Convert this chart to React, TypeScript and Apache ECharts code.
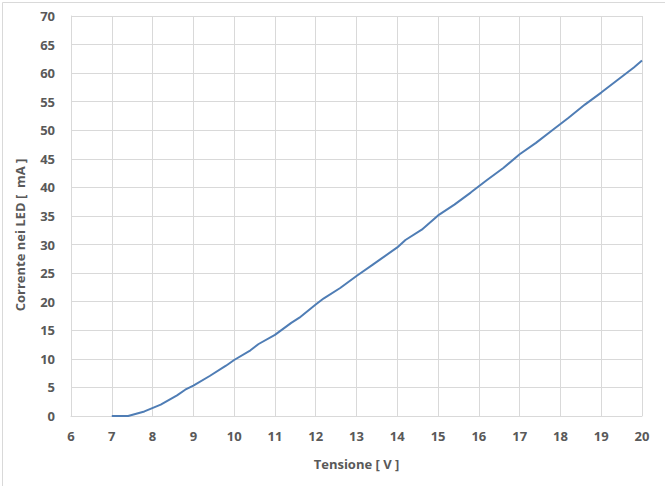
import React, { useEffect, useRef } from "react";
import * as echarts from "echarts";

const voltage = [7, 7.4, 7.8, 8.2, 8.6, 8.8, 9, 9.4, 9.8, 10, 10.4, 10.6, 11, 11.4, 11.6, 12, 12.2, 12.6, 13, 13.4, 13.6, 14, 14.2, 14.6, 15, 15.4, 15.8, 16.2, 16.6, 17, 17.4, 17.8, 18.2, 18.6, 19, 19.4, 19.8, 20];
const current = [0, 0, 0.8, 2, 3.6, 4.6, 5.3, 7, 8.8, 9.8, 11.5, 12.6, 14.2, 16.3, 17.2, 19.5, 20.6, 22.4, 24.5, 26.5, 27.5, 29.5, 30.8, 32.6, 35.1, 37, 39.1, 41.3, 43.4, 45.8, 47.8, 50, 52.2, 54.5, 56.6, 58.8, 61, 62.2];

const xTitle = "Tensione [ V ]";
const yTitle = "Corrente nei LED [  mA ]";

const FONT = "'Open Sans', Lato, sans-serif";
const TEXT = "#595959";

export default function App() {
  const ref = useRef<HTMLDivElement>(null);
  useEffect(() => {
    if (!ref.current) return;
    const chart = echarts.init(ref.current, undefined, { renderer: "svg" });
    chart.setOption({
      animation: false,
      backgroundColor: "#ffffff",
      grid: { left: 71, right: 23, top: 16, bottom: 70, containLabel: false },
      xAxis: {
        type: "value",
        min: 6,
        max: 20,
        interval: 1,
        name: xTitle,
        nameLocation: "middle",
        nameGap: 41,
        nameTextStyle: { color: TEXT, fontFamily: FONT, fontWeight: "bold", fontSize: 13 },
        axisLine: { show: true, lineStyle: { color: "#d9d9d9", width: 1 } },
        axisTick: { show: false },
        axisLabel: { color: TEXT, fontFamily: FONT, fontWeight: "bold", fontSize: 13, margin: 13 },
        splitLine: { show: true, lineStyle: { color: "#d9d9d9", width: 1 } },
      },
      yAxis: {
        type: "value",
        min: 0,
        max: 70,
        interval: 5,
        axisLine: { show: true, lineStyle: { color: "#d9d9d9", width: 1 } },
        axisTick: { show: false },
        axisLabel: { color: TEXT, fontFamily: FONT, fontWeight: "bold", fontSize: 13, margin: 16 },
        splitLine: { show: true, lineStyle: { color: "#d9d9d9", width: 1 } },
      },
      graphic: [
        {
          type: "rect",
          left: 0,
          top: 0,
          shape: { x: 0.5, y: 0.5, width: 664, height: 485 },
          style: { fill: "none", stroke: "#d9d9d9", lineWidth: 1 },
          silent: true,
        },
        {
          type: "text",
          x: 20,
          y: 235,
          rotation: Math.PI / 2,
          style: {
            text: yTitle,
            fill: TEXT,
            font: `bold 13px ${FONT}`,
            align: "center",
            verticalAlign: "middle",
          },
        },
      ],
      series: [
        {
          type: "line",
          data: voltage.map((v, i) => [v, current[i]]),
          showSymbol: false,
          smooth: false,
          lineStyle: { color: "#4F7DB5", width: 2 },
        },
      ],
    });
    return () => chart.dispose();
  }, []);
  return (
    <div
      ref={ref}
      style={{ position: "fixed", left: 0, top: 0, width: 665, height: 486 }}
    />
  );
}
